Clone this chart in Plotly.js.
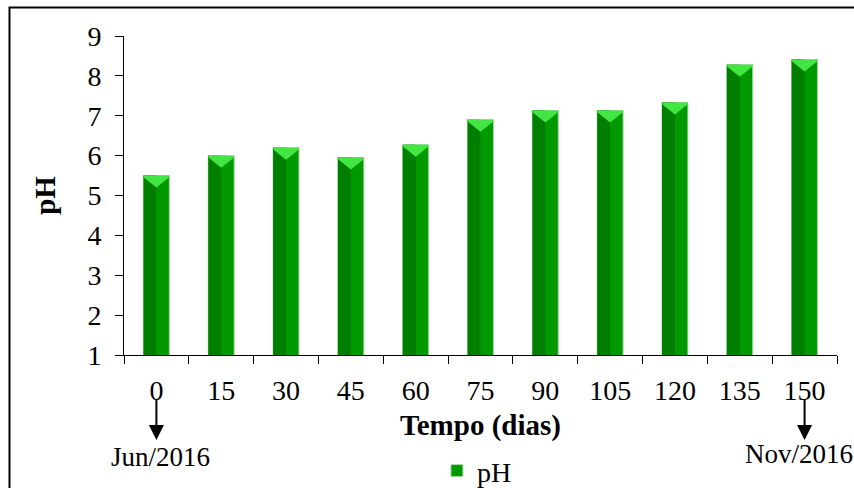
<!DOCTYPE html>
<html>
<head>
<meta charset="utf-8">
<script src="https://cdn.plot.ly/plotly-3.0.1.min.js"></script>
<style>
  html, body { margin: 0; padding: 0; background: #ffffff; }
  #chart { width: 854px; height: 488px; }
</style>
</head>
<body>
<div id="chart"></div>
<script>
// Sampling days and measured pH
const days = ['0', '15', '30', '45', '60', '75', '90', '105', '120', '135', '150'];
const phValues = [5.5, 6.0, 6.2, 5.95, 6.27, 6.9, 7.13, 7.13, 7.33, 8.28, 8.41];
const seriesName = 'pH';
const yTicks = [1, 2, 3, 4, 5, 6, 7, 8, 9];
const startLabel = 'Jun/2016';
const endLabel = 'Nov/2016';

const serif = "'Liberation Serif', 'Times New Roman', serif";

// Main bar (lighter right face)
const mainBars = {
  type: 'bar',
  name: seriesName,
  x: days,
  y: phValues,
  width: 0.4,
  marker: { color: '#009a00', line: { color: '#a6d8a6', width: 1 } },
  hoverinfo: 'x+y'
};

// Darker left face of each bar
const shadeBars = {
  type: 'bar',
  name: seriesName,
  x: days,
  y: phValues,
  width: 0.2,
  offset: -0.2,
  showlegend: false,
  marker: { color: '#007e00', line: { width: 0 } },
  hoverinfo: 'skip'
};

// Bevelled cap on top of each bar (anchored at the category index)
const caps = days.map((d, i) => ({
  type: 'path',
  xref: 'x', yref: 'y',
  xsizemode: 'pixel', ysizemode: 'pixel',
  xanchor: i, yanchor: phValues[i],
  path: 'M-12.5,0 L12.5,0 L12.5,-2 L0,-12 L-12.5,-2 Z',
  fillcolor: '#42e642',
  line: { width: 0 },
  layer: 'above'
}));

// Outer frame
const frame = {
  type: 'rect', xref: 'paper', yref: 'paper',
  x0: -0.1606, x1: 1.06, y0: -0.45, y1: 1.0893,
  line: { color: '#000000', width: 2 },
  fillcolor: 'rgba(0,0,0,0)'
};

const firstIdx = 0;
const lastIdx = days.length - 1;

const arrowStyle = {
  xref: 'x', yref: 'paper', y: -0.2665,
  showarrow: true, arrowhead: 2, arrowsize: 1.5, arrowwidth: 2,
  arrowcolor: '#000000', ax: 0, ay: -43, text: ' ', font: { size: 1 }
};

const layout = {
  width: 854, height: 488,
  margin: { l: 124, r: 17, t: 36, b: 133 },
  paper_bgcolor: '#ffffff',
  plot_bgcolor: '#ffffff',
  font: { family: serif, size: 28, color: '#000000' },
  barmode: 'overlay',
  showlegend: true,
  legend: {
    orientation: 'h', x: 0.495, xanchor: 'center',
    yref: 'container', y: 0.035, yanchor: 'middle',
    font: { family: serif, size: 28 }, bgcolor: 'rgba(0,0,0,0)'
  },
  xaxis: {
    type: 'category',
    range: [-0.5, days.length - 0.5],
    autorange: false,
    showline: true, linecolor: '#000000', linewidth: 1,
    ticks: 'outside', ticklen: 8, tickcolor: '#000000', tickson: 'boundaries',
    tickangle: 0,
    ticklabelstandoff: 10,
    showgrid: false, zeroline: false,
    tickfont: { family: serif, size: 28 },
    title: { text: '<b>Tempo (dias)</b>', font: { family: serif, size: 29 }, standoff: 10 }
  },
  yaxis: {
    range: [1, 9],
    autorange: false,
    tickvals: yTicks,
    showline: true, linecolor: '#000000', linewidth: 1,
    ticks: 'outside', ticklen: 8, tickcolor: '#000000',
    ticklabelstandoff: 8,
    showgrid: false, zeroline: false,
    tickfont: { family: serif, size: 28 },
    title: { text: '<b>pH</b>', font: { family: serif, size: 29 }, standoff: 23 }
  },
  shapes: [frame].concat(caps),
  annotations: [
    Object.assign({ x: firstIdx }, arrowStyle),
    Object.assign({ x: lastIdx }, arrowStyle),
    { xref: 'x', yref: 'paper', x: firstIdx, xshift: 4, y: -0.32, yanchor: 'middle',
      text: startLabel, showarrow: false, font: { family: serif, size: 27 } },
    { xref: 'x', yref: 'paper', x: lastIdx, xshift: -6, y: -0.31, yanchor: 'middle',
      text: endLabel, showarrow: false, font: { family: serif, size: 27 } }
  ]
};

Plotly.newPlot('chart', [mainBars, shadeBars], layout, { displayModeBar: false, responsive: false });
</script>
</body>
</html>
